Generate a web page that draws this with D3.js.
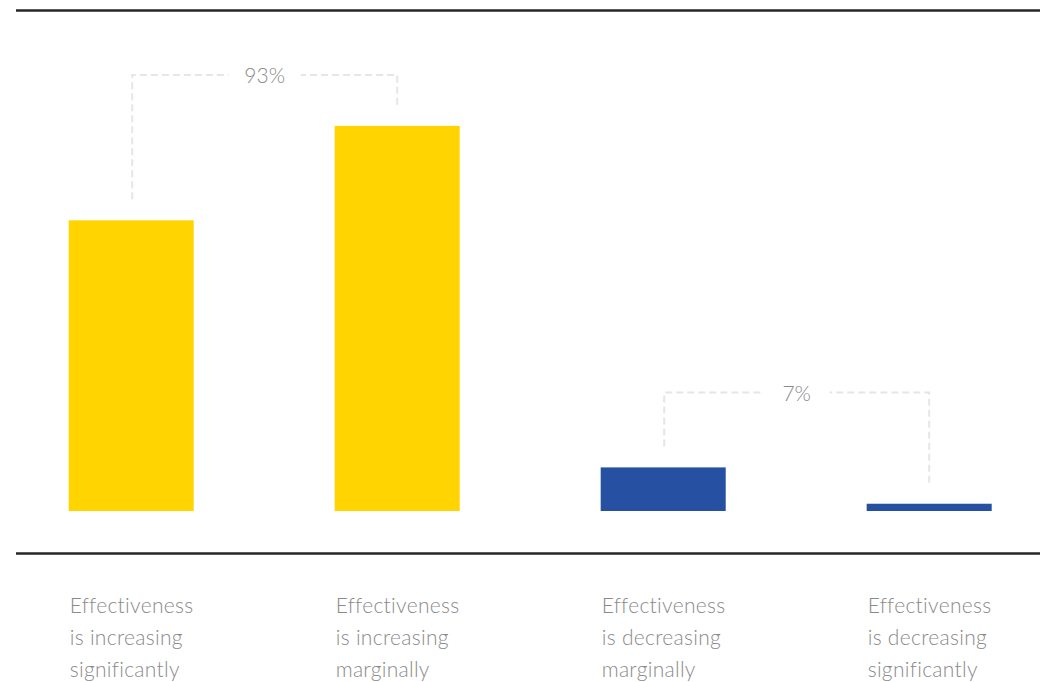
<!DOCTYPE html>
<html>
<head>
<meta charset="utf-8">
<script src="https://cdn.jsdelivr.net/npm/d3@7"></script>
<style>
  body { margin: 0; background: #fff; }
  svg { display: block; }
  .cat-label, .group-label { font-family: Lato, "Noto Sans", sans-serif; font-weight: 300; fill: #8a8a8a; }
</style>
</head>
<body>
<div id="chart"></div>
<script>
// chart values
const categories = [
    'Effectiveness is increasing significantly',
    'Effectiveness is increasing marginally',
    'Effectiveness is decreasing marginally',
    'Effectiveness is decreasing significantly'
];
const labelLines = [
    ['Effectiveness', 'is increasing', 'significantly'],
    ['Effectiveness', 'is increasing', 'marginally'],
    ['Effectiveness', 'is decreasing', 'marginally'],
    ['Effectiveness', 'is decreasing', 'significantly']
];
const values = [40, 53, 6, 1];
const groupLabels = ['93%', '7%'];
const groupMembers = [[0, 1], [2, 3]];

const width = 1040, height = 682;
const baseline = 511;
const barColors = ['#ffd400', '#ffd400', '#2650a2', '#2650a2'];
const bracketLevel = [60, 16.3];   // height of each bracket, in value units

const xScale = d3.scaleBand()
    .domain(categories)
    .range([15.5, 1044.9])
    .paddingInner(0.53)
    .paddingOuter(0.2);

const yScale = d3.scaleLinear().domain([0, 60]).range([baseline, 75]);

const svg = d3.select('#chart').append('svg')
    .attr('width', width)
    .attr('height', height);

// rules
svg.append('line')
    .attr('x1', 16).attr('x2', width)
    .attr('y1', 10.5).attr('y2', 10.5)
    .attr('stroke', '#262626').attr('stroke-width', 2.5);
svg.append('line')
    .attr('x1', 16).attr('x2', width)
    .attr('y1', 553.5).attr('y2', 553.5)
    .attr('stroke', '#262626').attr('stroke-width', 2.5);

// bars
svg.selectAll('.bar')
    .data(categories)
    .enter().append('rect')
    .attr('class', 'bar')
    .attr('x', d => xScale(d))
    .attr('width', xScale.bandwidth())
    .attr('y', (d, i) => yScale(values[i]))
    .attr('height', (d, i) => yScale(0) - yScale(values[i]))
    .attr('fill', (d, i) => barColors[i]);

// category labels
const labels = svg.selectAll('.cat-label')
    .data(categories)
    .enter().append('text')
    .attr('class', 'cat-label')
    .attr('font-size', 21)
    .attr('letter-spacing', 0.3);
labels.each(function(d, i) {
    const t = d3.select(this);
    labelLines[i].forEach((line, j) => {
        t.append('tspan')
            .attr('x', xScale(d) + 1)
            .attr('y', 613 + j * 32)
            .text(line);
    });
});

// brackets
const gapAboveBar = 21;
groupMembers.forEach((members, g) => {
    const a = categories[members[0]], b = categories[members[1]];
    const xa = xScale(a) + xScale.bandwidth() / 2 + 1;
    const xb = xScale(b) + xScale.bandwidth() / 2;
    const yTop = yScale(bracketLevel[g]);
    const ya = yScale(values[members[0]]) - gapAboveBar;
    const yb = yScale(values[members[1]]) - gapAboveBar;
    const xm = (xa + xb) / 2;
    const halfGap = groupLabels[g].length > 2 ? 36 : 33;

    const dash = { stroke: '#e6e6e6', 'stroke-width': 2, 'stroke-dasharray': '7,4', fill: 'none' };
    const left = svg.append('path')
        .attr('d', d3.line()([[xa, ya], [xa, yTop], [xm - halfGap, yTop]]));
    const right = svg.append('path')
        .attr('d', d3.line()([[xb, yb], [xb, yTop], [xm + halfGap, yTop]]));
    [left, right].forEach(p => Object.entries(dash).forEach(([k, v]) => p.attr(k, v)));

    svg.append('text')
        .attr('class', 'group-label')
        .attr('x', xm)
        .attr('y', yTop + 8)
        .attr('text-anchor', 'middle')
        .attr('font-size', 21)
        .text(groupLabels[g]);
});
</script>
</body>
</html>
